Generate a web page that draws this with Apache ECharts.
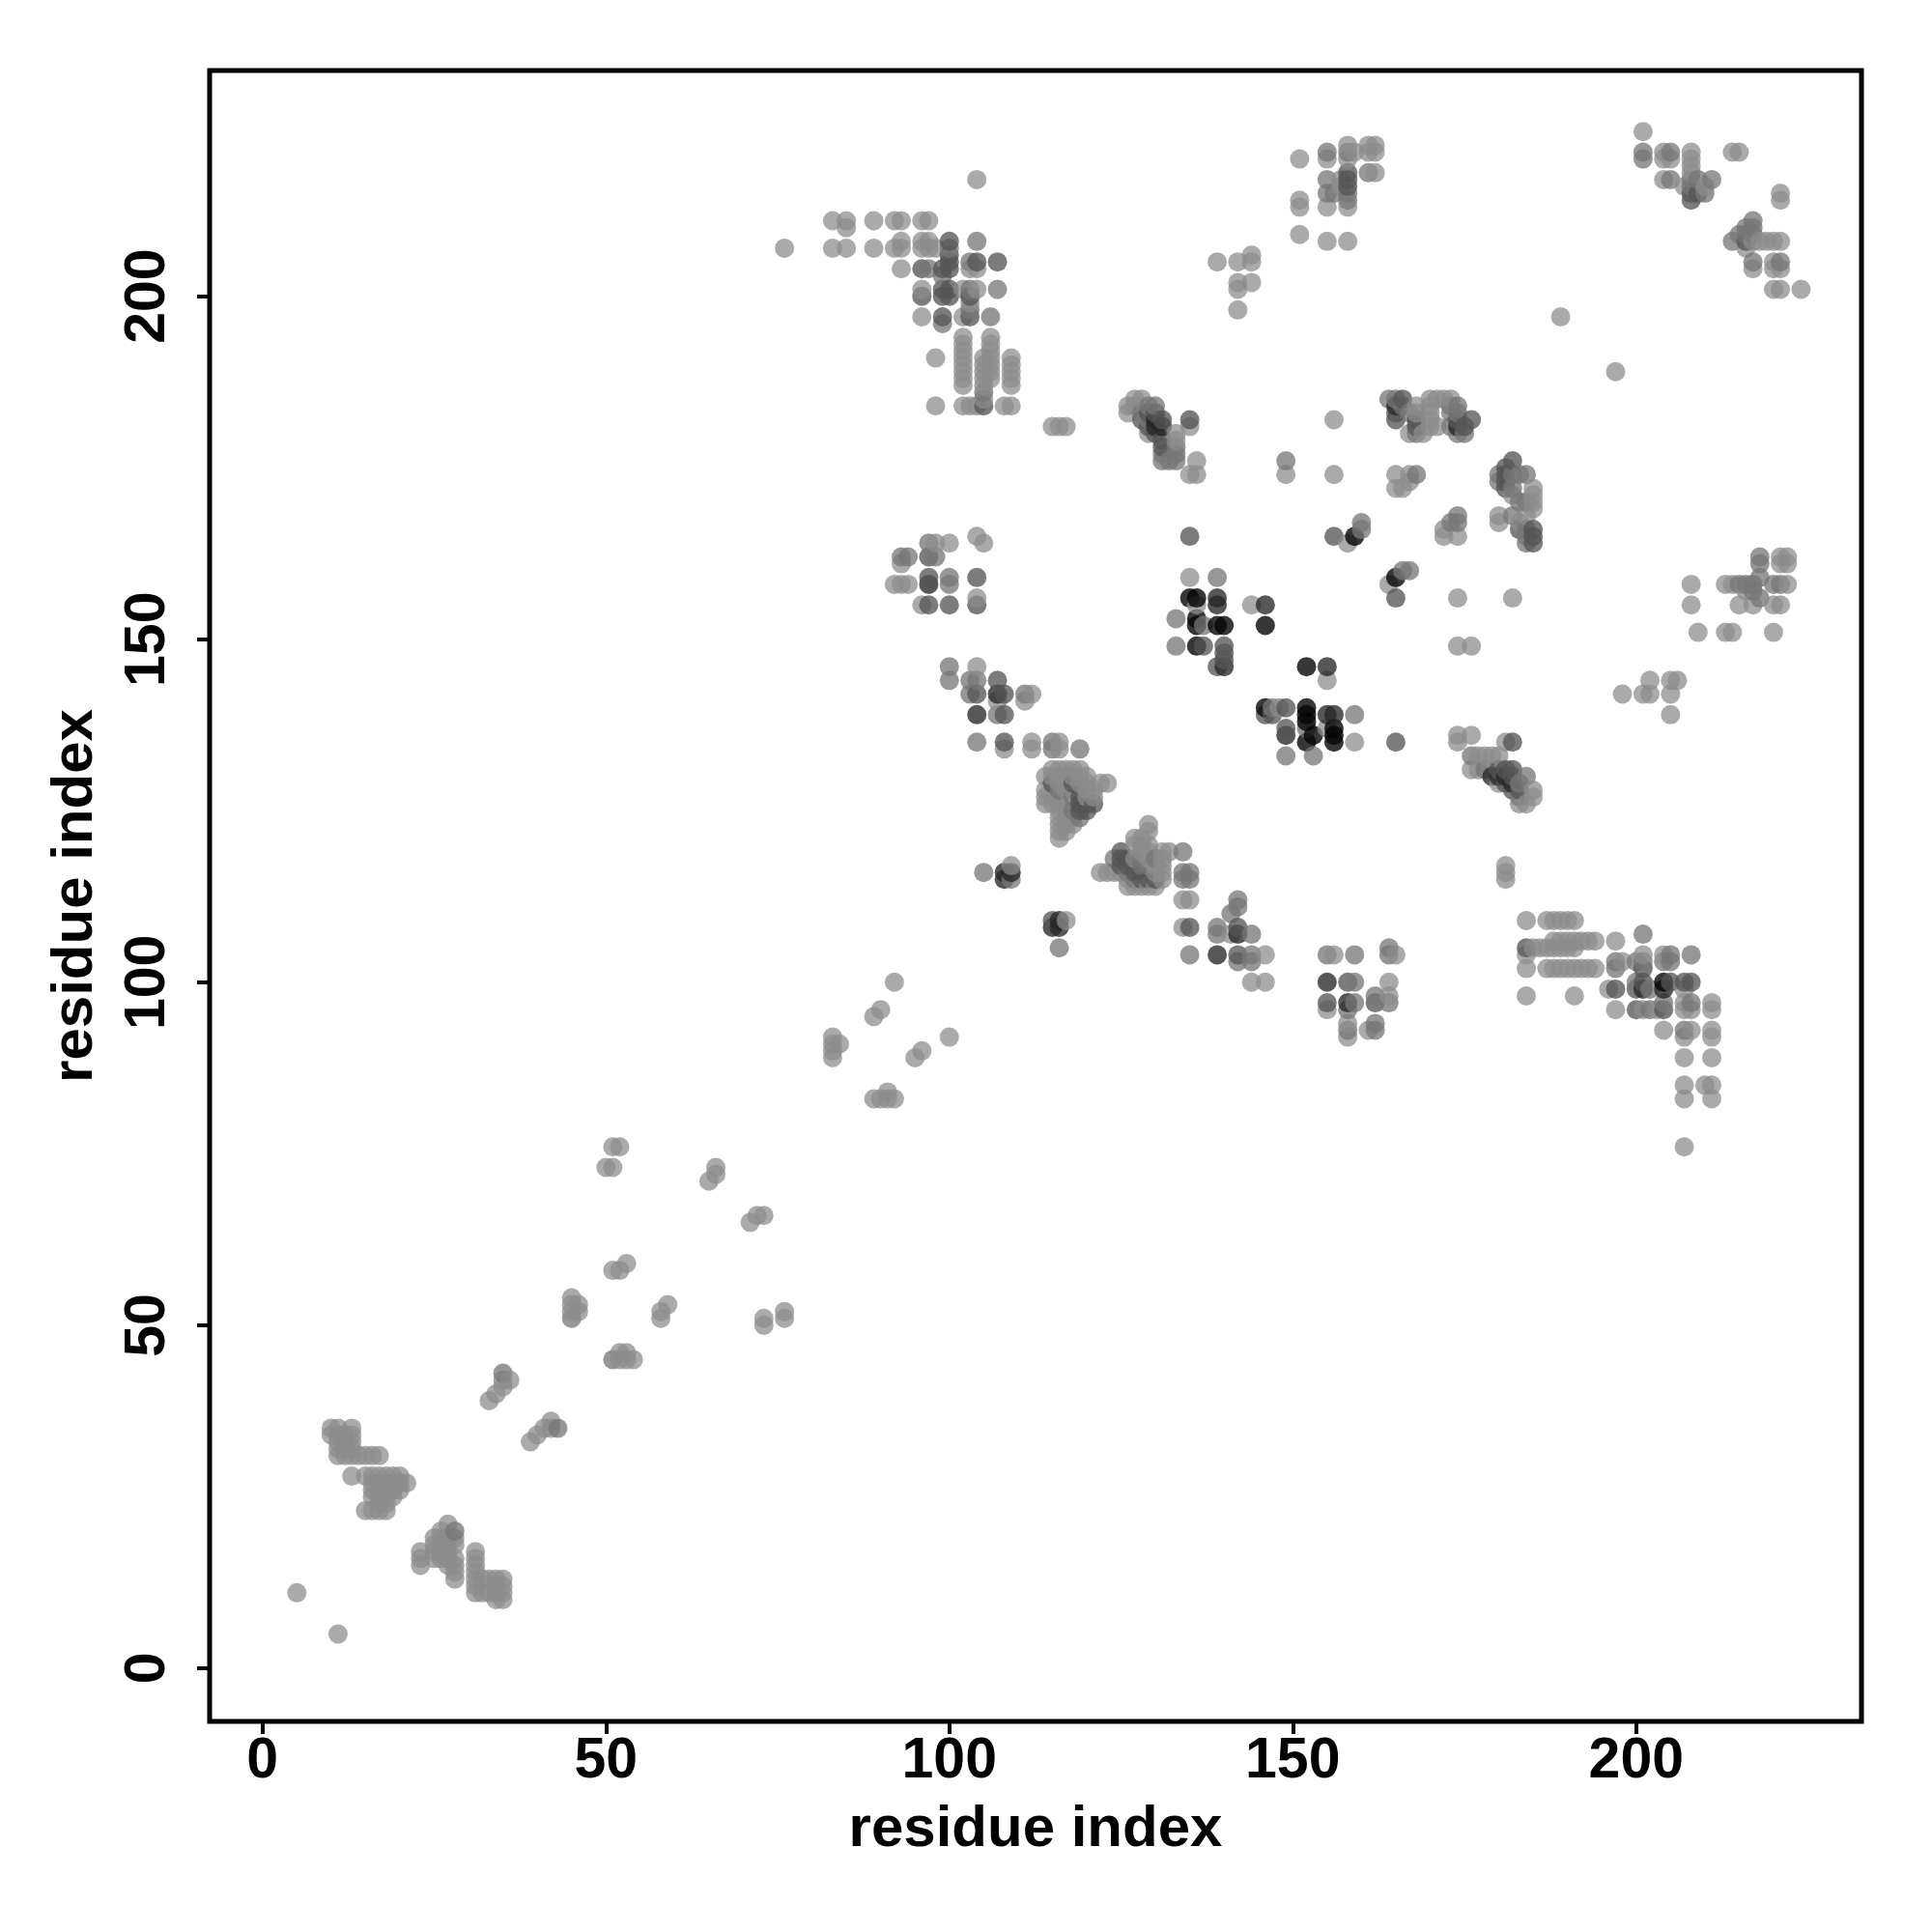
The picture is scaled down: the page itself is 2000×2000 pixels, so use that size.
<!DOCTYPE html>
<html>
<head>
<meta charset="utf-8">
<style>html,body{margin:0;padding:0;background:#fff}#c{width:2000px;height:2000px}</style>
<script src="https://cdn.jsdelivr.net/npm/echarts@6/dist/echarts.min.js"></script>
</head>
<body>
<div id="c"></div>
<script>
const tickValues = [0, 50, 100, 150, 200];
const xName = "residue index";
const yName = "residue index";

const weak = [
[5,11],[11,5],
[10,35],[11,35],[13,35],[10,34],[11,34],[12,34],[13,34],[11,33],[12,33],[13,33],[11,32],[12,32],[13,32],[11,31],[12,31],[13,31],[14,31],[15,31],[16,31],[17,31],
[13,28],[15,28],[16,28],[17,28],[18,28],[19,28],[20,28],[21,27],[16,27],[17,27],[18,27],[19,27],[20,27],[16,26],[17,26],[18,26],[19,26],[20,26],[16,25],[17,25],[18,25],[19,25],[17,24],[18,24],[15,23],[16,23],[17,23],[18,23],
[27,21],[26,20],[25,19],[26,19],[27,19],[28,19],[25,18],[26,18],[27,18],[28,18],[23,17],[25,17],[26,17],[27,17],[23,16],[25,16],[26,16],[27,16],[28,16],[23,15],[27,15],[28,15],[28,14],[28,13],
[31,17],[31,16],[31,15],[31,14],[31,13],[31,12],[31,11],[32,13],[33,13],[34,13],[35,13],[32,11],[33,11],[34,12],[35,12],[34,11],[35,11],[34,10],[35,10],
[33,39],[34,40],[35,41],[35,42],[36,42],[39,33],[40,34],[41,35],[42,36],[42,35],
[50,73],[51,73],[51,76],[52,76],[66,73],[66,72],[65,71],[71,65],[72,66],[73,66],[51,58],[52,58],[53,59],[45,54],[45,53],[45,52],[46,53],[46,52],[58,51],[58,52],[59,53],[73,50],[73,51],[76,51],[76,52],[52,45],[52,46],[53,46],[53,45],[54,45],
[83,92],[83,91],[83,90],[84,91],[83,89],[89,95],[90,96],[92,100],[95,89],[96,90],[100,92],[89,83],[90,83],[91,84],[91,83],[92,83],
[104,217],[76,207],[83,211],[85,211],[85,210],[89,211],[92,211],[93,211],[96,211],[97,211],[83,207],[85,207],[89,207],[92,207],[93,208],[93,207],[96,208],[97,208],[96,207],[97,207],[98,207],[93,204],[96,201],[102,201],[103,204],[104,204],[104,201],[103,199],[102,197],[96,197],
[102,194],[102,193],[102,192],[102,191],[102,190],[102,189],[102,188],[102,187],[106,194],[106,193],[106,192],[106,191],[106,190],[106,189],[106,188],[105,191],[105,190],[105,189],[105,188],[105,187],[109,191],[109,190],[109,189],[109,188],[109,187],[98,191],[98,184],[102,184],[103,184],[104,184],[108,184],[109,184],[105,185],[115,181],[116,181],[117,181],
[151,220],[155,220],[158,222],[158,220],[159,221],[161,222],[162,222],[161,221],[162,221],[162,218],[157,217],[157,216],[155,213],[158,213],[151,214],[151,213],[151,209],[155,208],[158,208],
[139,205],[142,205],[144,206],[144,205],[142,202],[142,201],[144,202],[142,198],
[189,197],[197,189],[201,224],[204,221],[204,220],[205,220],[204,217],[208,221],[208,220],[208,219],[208,218],[207,216],[210,216],[214,221],[215,221],[221,215],[221,214],[216,207],[217,208],[218,208],[219,208],[220,208],[221,208],[217,204],[220,204],[221,204],[220,205],[220,201],[221,201],[224,201],
[126,184],[126,183],[127,185],[128,185],[127,184],[129,180],[133,180],[133,179],[135,181],[136,176],[135,174],[136,174],[149,174],[156,182],[156,174],
[168,184],[168,183],[170,185],[171,185],[172,185],[173,185],[170,184],[170,183],[170,182],[170,181],[171,181],[167,180],[169,180],
[165,174],[165,172],[166,172],[167,173],[167,174],
[180,168],[180,167],[182,171],[184,168],[183,167],[185,172],[185,171],[185,170],[185,169],
[158,164],[172,165],[174,165],[172,166],[135,159],[136,155],[144,155],[164,158],[174,156],[182,156],[174,149],[176,149],[155,144],[148,140],[155,137],[159,135],[174,136],[174,135],[176,136],[181,135],
[177,133],[178,133],[179,133],[180,133],[176,133],[176,131],[177,131],[180,129],[185,128],[185,127],[184,126],[183,126],[181,117],[181,116],[181,115],
[184,109],[187,109],[188,109],[189,109],[190,109],[191,109],[188,106],[189,106],[190,106],[191,106],[192,106],[193,106],[194,106],[188,105],[189,105],[190,105],[191,105],[186,105],[187,105],[185,105],[184,104],[184,102],[187,102],[188,102],[189,102],[190,102],[191,102],[192,102],[193,102],[194,102],[184,98],[191,98],
[156,104],[165,104],[164,100],[164,98],[155,96],[158,94],[158,92],[161,93],[197,102],[198,103],[196,99],[197,96],[197,106],[201,104],[204,104],[207,99],[201,96],[203,96],[207,97],[207,96],[208,96],[211,97],[211,96],[204,93],[208,93],[207,92],[211,93],[211,92],[207,89],[211,89],[207,85],[207,83],[210,85],[211,85],[211,83],[207,76],
[96,155],[92,158],[93,158],[94,158],[93,161],[100,164],[105,164],[104,165],[104,156],[98,164],[104,146],[107,141],[112,142],[111,141],[108,134],[112,135],[112,134],[116,135],[116,134],
[115,131],[116,131],[117,131],[118,131],[119,131],[114,130],[115,130],[116,130],[117,130],[118,130],[119,130],[120,130],[116,129],[117,129],[119,129],[120,129],[122,129],[123,129],[114,128],[117,128],[118,128],[120,128],[121,128],[114,127],[115,127],[116,127],[120,127],[121,127],[114,126],[115,126],[116,126],[116,125],[117,125],[116,124],[117,124],[118,124],[116,123],[117,123],[118,123],[116,122],[117,122],[116,121],
[129,123],[129,122],[127,121],[128,121],[127,120],[128,120],[129,120],[128,119],[129,119],[131,119],[132,119],[127,118],[129,118],[131,118],[122,116],[123,116],[124,116],[125,116],[131,117],[130,117],[131,116],[130,116],[126,115],[131,115],[126,114],[127,114],[128,114],[129,114],[130,114],
[134,112],[135,112],[134,108],[141,107],[146,104],[144,100],[146,100],[109,117],[117,109],
[198,142],[201,142],[202,142],[202,144],[205,142],[205,144],[206,144],[205,139],
[208,158],[208,155],[209,151],[213,158],[214,158],[215,155],[213,151],[214,151],[220,151],[221,162],[222,162],[221,161],[222,161],[222,158],[221,155],[220,155],[216,157],[217,155]
];

const mid = [
[28,20],[43,35],[35,43],[45,51],[51,45],
[100,207],[104,208],[103,205],[107,201],[97,204],[99,203],[99,196],[106,197],[103,198],[103,201],[105,186],
[155,221],[158,221],[161,218],[155,217],[155,215],[158,215],[158,214],[156,215],
[201,221],[201,220],[205,221],[205,217],[208,217],[208,216],[209,217],[211,217],[210,215],[217,211],[216,210],[215,209],[214,208],[216,209],[217,209],[217,210],[217,205],[221,205],
[128,183],[129,184],[130,184],[129,182],[133,178],[133,177],[133,176],[131,176],[132,176],[131,177],[149,176],
[164,185],[165,185],[166,184],[167,183],[168,180],[174,184],[173,184],[173,183],[174,183],[173,181],[174,180],[175,180],
[168,174],[180,174],[180,173],[182,174],[183,174],[184,174],[182,172],[183,170],[184,170],[182,168],[184,166],[184,165],[184,164],
[160,167],[160,166],[173,167],[174,168],[174,167],[139,159],[166,160],[167,160],[133,153],[137,152],[133,149],[147,140],[159,139],[152,137],[153,133],[149,133],
[178,131],[183,129],[184,130],[183,127],[176,133],
[164,105],[164,104],[164,97],[159,100],[162,98],[159,104],[159,97],[158,96],[158,93],[162,94],[162,93],[197,103],[197,102],[201,103],[200,103],[200,100],[201,107],[205,104],[205,103],[204,103],[202,99],[202,96],[208,104],[204,97],[208,97],[207,93],[155,104],
[97,164],[93,162],[94,162],[98,162],[100,159],[100,158],[100,146],[100,144],[103,144],[104,144],[103,142],[111,142],[107,139],[104,135],[115,135],[115,134],[119,134],[134,119],[134,116],[135,116],[134,115],[135,115],[142,112],[142,111],[141,110],[139,108],[139,107],[144,107],[142,103],[144,104],[144,103],[135,104],[116,105],[105,116],[109,115],
[116,128],[118,127],[118,125],[119,124],[124,118],[128,118],[130,118],[128,117],[129,117],[126,116],[127,115],
[218,162],[218,161],[221,158],[220,158],[215,158],[216,158],[217,158],[218,159],[217,157],[218,156]
];

const strong = [
[100,206],[100,205],[100,208],[104,205],[107,205],[96,204],[100,201],[99,201],[96,200],[100,200],[99,197],[103,197],[103,200],[105,184],[100,204],[99,204],[99,200],
[158,218],[158,217],[158,216],
[209,215],[208,215],[208,214],[216,208],
[129,183],[130,183],[128,182],[131,182],[129,181],[130,180],[131,179],[131,178],[135,182],
[165,183],[166,185],[165,182],[168,182],[168,181],[176,182],[174,182],[175,181],
[182,176],[181,175],[181,174],[181,173],[181,172],[185,166],[183,166],[185,165],[185,164],
[135,165],[156,165],[165,156],[137,149],[140,149],[140,148],[140,147],[139,146],[146,139],[147,139],[149,140],[149,137],[165,135],[182,135],
[180,131],[181,131],[182,131],[183,128],[182,128],[181,129],[182,130],
[155,97],[158,100],[162,97],[184,105],[197,99],[201,102],[201,100],[200,99],[200,96],[204,96],[205,100],[207,100],[208,100],
[97,162],[97,159],[97,155],[100,155],[104,159],[104,155],[104,142],[107,144],[108,142],[108,139],[108,135],[115,109],[135,108],[142,108],[142,104],
[115,129],[118,129],[119,127],[120,126],[120,125],[119,126],[121,126],[119,125],
[125,119],[125,118],[126,118],[125,117],[126,117],[127,116],[128,116],[128,115],[129,115],[130,115]
];

const heavy = [
[130,182],[131,181],[130,181],[165,184],[174,181],
[146,155],[155,146],[139,156],[139,155],[140,146],[156,139],[155,139],[149,136],
[179,130],[180,130],[181,130],[182,129],
[155,100],[158,97],[201,99],[204,99],
[97,158],[107,142],[104,139],[108,116],[108,115],[109,116],[116,109],[115,108],[116,108],[142,107],[139,104]
];

const full = [
[159,165],[165,159],[135,156],[136,156],[136,153],[136,152],[139,152],[140,152],[146,152],[136,149],[152,146],[146,140],[152,140],[152,139],[152,138],[152,135],[153,136],[156,137],[156,136],[156,135],[204,100]
];

const shades = [
  [weak,   'rgba(140,140,140,0.92)'],
  [mid,    'rgba(118,118,118,0.95)'],
  [strong, 'rgba(85,85,85,0.96)'],
  [heavy,  'rgba(38,38,38,0.97)'],
  [full,   'rgb(5,5,5)']
];

// a contact listed in several shades keeps its darkest one
const byContact = new Map();
shades.forEach(function (s) {
  s[0].forEach(function (p) {
    byContact.set(p[0] + ':' + p[1], { value: p, itemStyle: { color: s[1] } });
  });
});
const points = Array.from(byContact.values());
points.sort(function (a, b) { return a.value[0] - b.value[0] || a.value[1] - b.value[1]; });

const font = '"Liberation Sans", Arial, sans-serif';
const chart = echarts.init(document.getElementById('c'), null, { renderer: 'canvas' });
chart.setOption({
  animation: false,
  backgroundColor: '#fff',
  grid: { show: true, left: 217, right: 73, top: 73, bottom: 218, borderColor: '#000', borderWidth: 5, backgroundColor: 'transparent' },
  xAxis: {
    type: 'value', min: -7.7, max: 232.8, splitLine: { show: false },
    axisLine: { show: false, onZero: false },
    axisTick: { show: true, length: 13, lineStyle: { color: '#000', width: 4 }, customValues: tickValues },
    axisLabel: { show: true, margin: 12, color: '#000', fontFamily: font, fontWeight: 'bold', fontSize: 59, customValues: tickValues, hideOverlap: false },
    name: xName, nameLocation: 'middle', nameGap: 82,
    nameTextStyle: { color: '#000', fontFamily: font, fontWeight: 'bold', fontSize: 60 }
  },
  yAxis: {
    type: 'value', min: -7.75, max: 232.9, splitLine: { show: false },
    axisLine: { show: false, onZero: false },
    axisTick: { show: true, length: 13, lineStyle: { color: '#000', width: 4 }, customValues: tickValues },
    axisLabel: { show: true, margin: 34, rotate: 90, color: '#000', fontFamily: font, fontWeight: 'bold', fontSize: 59, customValues: tickValues, hideOverlap: false },
    name: yName, nameLocation: 'middle', nameGap: 109, nameRotate: 90,
    nameTextStyle: { color: '#000', fontFamily: font, fontWeight: 'bold', fontSize: 60 }
  },
  series: [{
    type: 'scatter', symbol: 'circle', symbolSize: 20, clip: false, large: false,
    data: points, emphasis: { disabled: true }
  }]
});
</script>
</body>
</html>
